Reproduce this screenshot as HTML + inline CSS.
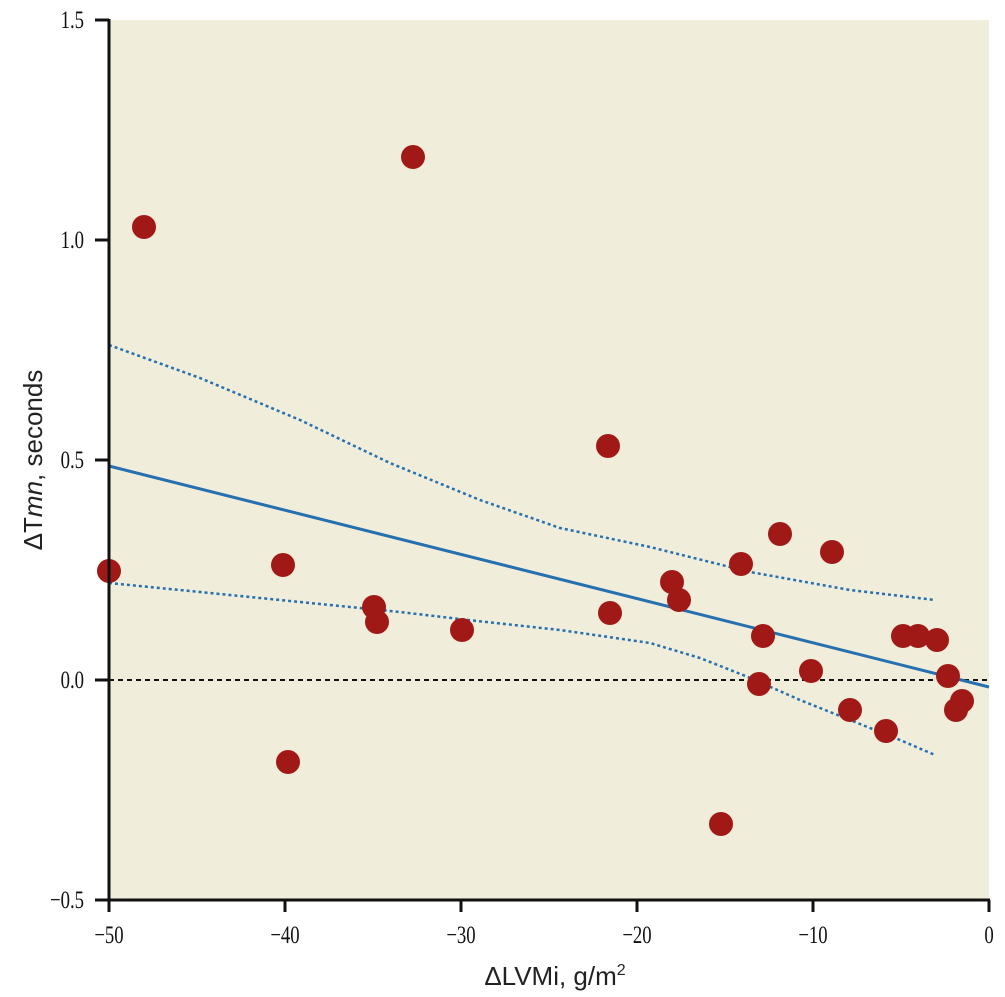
<!DOCTYPE html>
<html><head><meta charset="utf-8"><style>
html,body{margin:0;padding:0;background:#fff}
svg{display:block}
.t{font-family:"Liberation Serif",serif;font-size:25px;fill:#111}
.l{font-family:"Liberation Sans",sans-serif;font-size:26px;fill:#222}
</style></head><body>
<svg width="1005" height="997" viewBox="0 0 1005 997">
<rect x="109" y="20" width="880" height="880" fill="#f1eddb"/>
<line x1="109" y1="680" x2="989" y2="680" stroke="#111" stroke-width="2" stroke-dasharray="5,4"/>
<polyline fill="none" stroke="#2670b0" stroke-width="2.5" stroke-dasharray="3,3" points="109,345 200,378 300,420 390,463 480,500 560,528 650,547 750,572 850,590 935,600"/>
<polyline fill="none" stroke="#2670b0" stroke-width="2.5" stroke-dasharray="3,3" points="109,583 200,592 300,602 400,612 468,620 560,630 650,643 700,658 748,677 800,700 850,720 900,740 935,755"/>
<line x1="109" y1="466" x2="989" y2="687" stroke="#2670b0" stroke-width="3"/>
<g fill="#a11916">
<circle cx="109" cy="571" r="12"/><circle cx="144" cy="227" r="12"/><circle cx="413" cy="157" r="12"/>
<circle cx="283" cy="565" r="12"/><circle cx="288" cy="762" r="12"/><circle cx="374" cy="607" r="12"/>
<circle cx="377" cy="622" r="12"/><circle cx="462" cy="630" r="12"/><circle cx="608" cy="446" r="12"/>
<circle cx="610" cy="613" r="12"/><circle cx="672" cy="582" r="12"/><circle cx="679" cy="600" r="12"/>
<circle cx="721" cy="824" r="12"/><circle cx="741" cy="564" r="12"/><circle cx="780" cy="534" r="12"/>
<circle cx="763" cy="636" r="12"/><circle cx="759" cy="684" r="12"/><circle cx="811" cy="671" r="12"/>
<circle cx="832" cy="552" r="12"/><circle cx="850" cy="710" r="12"/><circle cx="886" cy="731" r="12"/>
<circle cx="903" cy="636" r="12"/><circle cx="918" cy="636" r="12"/><circle cx="937" cy="640" r="12"/>
<circle cx="948" cy="676" r="12"/><circle cx="956" cy="710" r="12"/><circle cx="962" cy="701" r="12"/>
</g>
<g stroke="#111" stroke-width="3">
<line x1="109" y1="19" x2="109" y2="901"/><line x1="108" y1="900" x2="990" y2="900"/>
<line x1="95" y1="20" x2="109" y2="20"/><line x1="95" y1="240" x2="109" y2="240"/><line x1="95" y1="460" x2="109" y2="460"/><line x1="95" y1="680" x2="109" y2="680"/><line x1="95" y1="900" x2="109" y2="900"/>
<line x1="109" y1="900" x2="109" y2="912"/><line x1="285" y1="900" x2="285" y2="912"/><line x1="461" y1="900" x2="461" y2="912"/><line x1="637" y1="900" x2="637" y2="912"/><line x1="813" y1="900" x2="813" y2="912"/><line x1="989" y1="900" x2="989" y2="912"/>
</g>
<g class="t" text-anchor="end">
<text transform="translate(84,28) scale(0.75,1)">1.5</text>
<text transform="translate(84,248) scale(0.75,1)">1.0</text>
<text transform="translate(84,468) scale(0.75,1)">0.5</text>
<text transform="translate(84,688) scale(0.75,1)">0.0</text>
<text transform="translate(84,908) scale(0.75,1)">−0.5</text>
</g>
<g class="t" text-anchor="middle">
<text transform="translate(109,943) scale(0.75,1)">−50</text>
<text transform="translate(285,943) scale(0.75,1)">−40</text>
<text transform="translate(461,943) scale(0.75,1)">−30</text>
<text transform="translate(637,943) scale(0.75,1)">−20</text>
<text transform="translate(813,943) scale(0.75,1)">−10</text>
<text transform="translate(989,943) scale(0.75,1)">0</text>
</g>
<text class="l" x="555" y="985" text-anchor="middle">ΔLVMi, g/m<tspan font-size="16" dy="-10">2</tspan></text>
<text class="l" transform="translate(42,460) rotate(-90)" text-anchor="middle">ΔT<tspan font-style="italic">mn</tspan>, seconds</text>
</svg>
</body></html>
